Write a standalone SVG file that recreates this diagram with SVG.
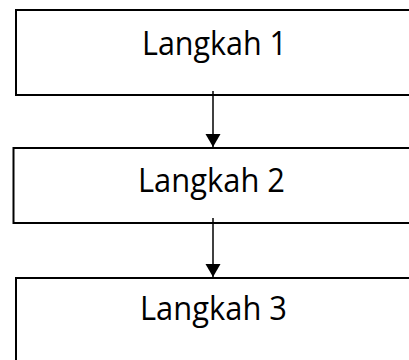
<svg xmlns="http://www.w3.org/2000/svg" width="409" height="360" viewBox="0 0 409 360">
  <style>
    .box { fill: #ffffff; stroke: #000000; stroke-width: 2; }
    .label { font-family: "Open Sans", "Noto Sans", sans-serif; font-size: 32px; fill: #000000; text-anchor: middle; }
    .conn { stroke: #000000; stroke-width: 1.5; fill: none; }
  </style>
  <defs>
    <marker id="arrow" markerUnits="userSpaceOnUse" markerWidth="13" markerHeight="16" refX="13" refY="8" orient="auto">
      <path d="M0,0.5 L13,8 L0,15.5 Z" fill="#000000"/>
    </marker>
  </defs>
  <rect width="409" height="360" fill="#ffffff"/>

  <g id="step1">
    <rect class="box" x="16" y="10" width="420" height="85"/>
    <text class="label" x="214.5" y="55" textLength="145" lengthAdjust="spacingAndGlyphs">Langkah 1</text>
  </g>

  <g id="step2">
    <rect class="box" x="13.5" y="148" width="420" height="75"/>
    <text class="label" x="211.5" y="192" textLength="147" lengthAdjust="spacingAndGlyphs">Langkah 2</text>
  </g>

  <g id="step3">
    <rect class="box" x="16" y="278" width="420" height="100"/>
    <text class="label" x="213.5" y="320" textLength="147" lengthAdjust="spacingAndGlyphs">Langkah 3</text>
  </g>

  <g id="connectors">
    <line class="conn" x1="213" y1="91" x2="213" y2="147" marker-end="url(#arrow)"/>
    <line class="conn" x1="213" y1="218" x2="213" y2="277" marker-end="url(#arrow)"/>
  </g>
</svg>
